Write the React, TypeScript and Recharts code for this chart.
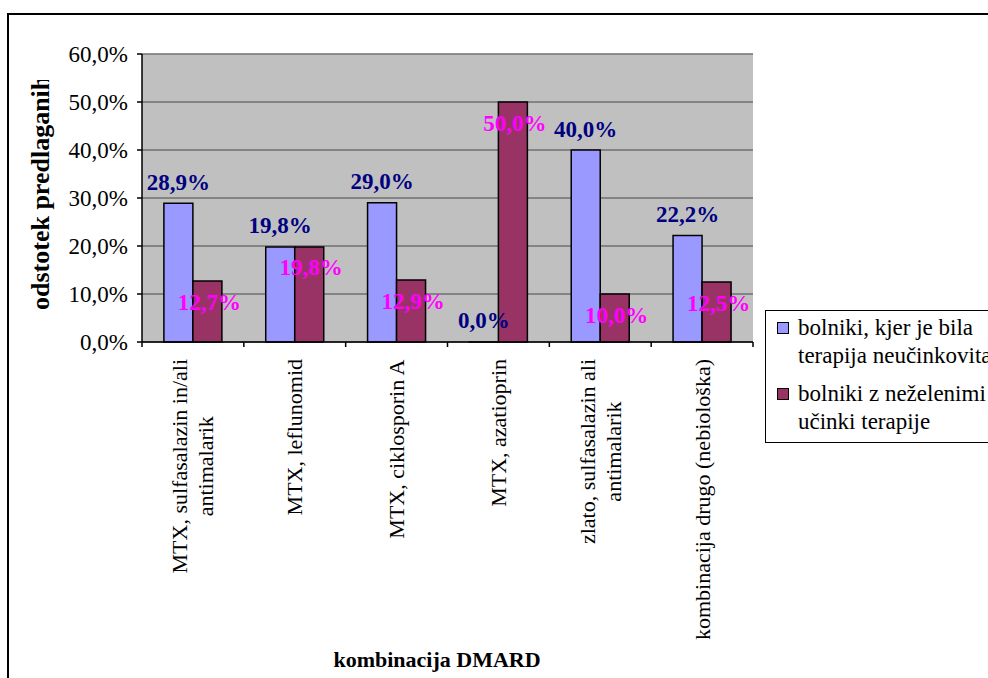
import React from "react";
import { Bar, BarChart, CartesianGrid, LabelList, XAxis, YAxis } from "recharts";

const categories = [
  "MTX, sulfasalazin in/ali\nantimalarik",
  "MTX, leflunomid",
  "MTX, ciklosporin A",
  "MTX, azatioprin",
  "zlato, sulfasalazin ali\nantimalarik",
  "kombinacija drugo (nebiološka)",
];
const neucinkovita = [28.9, 19.8, 29.0, 0.0, 40.0, 22.2];
const nezeleni = [12.7, 19.8, 12.9, 50.0, 10.0, 12.5];
const yTicks = [0, 10, 20, 30, 40, 50, 60];

const seriesNames = ["bolniki, kjer je bila\nterapija neučinkovita", "bolniki z neželenimi\nučinki terapije"];
const seriesColors = ["#9999FF", "#993366"];

const data = categories.map((name, i) => ({ name, a: neucinkovita[i], b: nezeleni[i] }));

const FONT = "'Liberation Serif', 'Times New Roman', Tinos, 'DejaVu Serif', serif";
const pct = (v: number) => v.toFixed(1).replace(".", ",") + "%";

let ctx: CanvasRenderingContext2D | null = null;
function textWidth(s: string) {
  if (!ctx) ctx = document.createElement("canvas").getContext("2d");
  if (!ctx) return s.length * 10;
  ctx.font = `22px ${FONT}`;
  return ctx.measureText(s).width;
}

// category label: rotated lines, block aligned to the top, lines centred on each other
function CategoryTick(props: any) {
  const { x, y, payload } = props;
  const lines: string[] = String(payload.value).split("\n");
  const half = payload.offset ?? 0;
  const maxW = Math.max(...lines.map(textWidth));
  const top = y + 17;
  const lh = 26;
  const isLast = payload.value === categories[categories.length - 1];
  return (
    <g>
      <line x1={x - half} x2={x - half} y1={y} y2={y + 5} stroke="#000" strokeWidth={1.5} />
      {isLast && <line x1={x + half} x2={x + half} y1={y} y2={y + 5} stroke="#000" strokeWidth={1.5} />}
      {lines.map((ln, i) => (
        <text
          key={i}
          transform={`translate(${x + (i - (lines.length - 1) / 2) * lh},${top + maxW / 2}) rotate(-90)`}
          textAnchor="middle"
          dominantBaseline="central"
          fontFamily={FONT}
          fontSize={22}
          fill="#000"
        >
          {ln}
        </text>
      ))}
    </g>
  );
}

function TopLabel(props: any) {
  const { x, y, width, value } = props;
  return (
    <text x={x + width / 2} y={y - 21} textAnchor="middle" dominantBaseline="central"
      fontFamily={FONT} fontSize={23} fontWeight="bold" fill="#000080">
      {pct(value)}
    </text>
  );
}

function InsideLabel(props: any) {
  const { x, y, width, value } = props;
  return (
    <text x={x + width / 2 + 2} y={y + 21} textAnchor="middle" dominantBaseline="central"
      fontFamily={FONT} fontSize={23} fontWeight="bold" fill="#FF00FF">
      {pct(value)}
    </text>
  );
}

function YTitle() {
  return (
    <g>
      <defs>
        <clipPath id="ytitle-clip">
          <rect x={0} y={80} width={100} height={300} />
        </clipPath>
      </defs>
      <g clipPath="url(#ytitle-clip)">
        <text transform="translate(40,310) rotate(-90)" textAnchor="start" dominantBaseline="central"
          fontFamily={FONT} fontSize={26} fontWeight="bold" fill="#000">
          odstotek predlaganih
        </text>
      </g>
    </g>
  );
}

function LegendBox() {
  return (
    <div
      style={{
        position: "absolute",
        left: 765,
        top: 310,
        width: 260,
        height: 133,
        border: "1.5px solid #000",
        background: "#fff",
        fontFamily: FONT,
        fontSize: 23,
        lineHeight: "28px",
        boxSizing: "border-box",
      }}
    >
      {seriesNames.map((name, i) => (
        <div key={i} style={{ position: "absolute", left: 11, top: 3 + i * 66, display: "flex" }}>
          <span
            style={{
              width: 10,
              height: 10,
              marginTop: 8,
              marginRight: 9,
              background: seriesColors[i],
              border: "1.5px solid #000",
              flex: "none",
            }}
          />
          <span style={{ whiteSpace: "pre" }}>{name}</span>
        </div>
      ))}
    </div>
  );
}

export default function App() {
  return (
    <div style={{ position: "absolute", left: 0, top: 0, width: 988, height: 678, overflow: "hidden", background: "#fff" }}>
      <div
        style={{
          position: "absolute",
          left: 7,
          top: 13,
          width: 1100,
          height: 800,
          borderLeft: "2.5px solid #000",
          borderTop: "2.5px solid #000",
        }}
      />
      <div style={{ position: "absolute", left: 0, top: 0 }}>
        <BarChart
          width={988}
          height={678}
          data={data}
          margin={{ top: 54, right: 235, left: 52, bottom: 36 }}
          barCategoryGap="21.5%"
          barGap={0}
        >
          <CartesianGrid vertical={false} fill="#C0C0C0" stroke="#707070" strokeWidth={1.5} />
          <XAxis
            dataKey="name"
            interval={0}
            height={300}
            tickLine={false}
            tickSize={0}
            tickMargin={0}
            stroke="#000"
            strokeWidth={1.5}
            tick={<CategoryTick />}
          />
          <YAxis
            domain={[0, 60]}
            ticks={yTicks}
            width={90}
            tickSize={5}
            tickMargin={9}
            tickFormatter={pct}
            stroke="#000"
            strokeWidth={1.5}
            tick={{ fill: "#000", fontFamily: FONT, fontSize: 23 }}
            label={{ content: () => <YTitle /> }}
          />
          <YAxis yAxisId="edge" orientation="right" width={0} tick={false} tickLine={false} stroke="#707070" strokeWidth={1.5} domain={[0, 60]} />
          <Bar dataKey="a" fill={seriesColors[0]} stroke="#000" strokeWidth={1.5} minPointSize={0.01} isAnimationActive={false}>
            <LabelList dataKey="a" content={<TopLabel />} />
          </Bar>
          <Bar dataKey="b" fill={seriesColors[1]} stroke="#000" strokeWidth={1.5} isAnimationActive={false}>
            <LabelList dataKey="b" content={<InsideLabel />} />
          </Bar>
        </BarChart>
      </div>
      <div
        style={{
          position: "absolute",
          left: 437,
          top: 647,
          transform: "translateX(-50%)",
          whiteSpace: "nowrap",
          fontFamily: FONT,
          fontSize: 22,
          fontWeight: "bold",
        }}
      >
        kombinacija DMARD
      </div>
      <LegendBox />
    </div>
  );
}
